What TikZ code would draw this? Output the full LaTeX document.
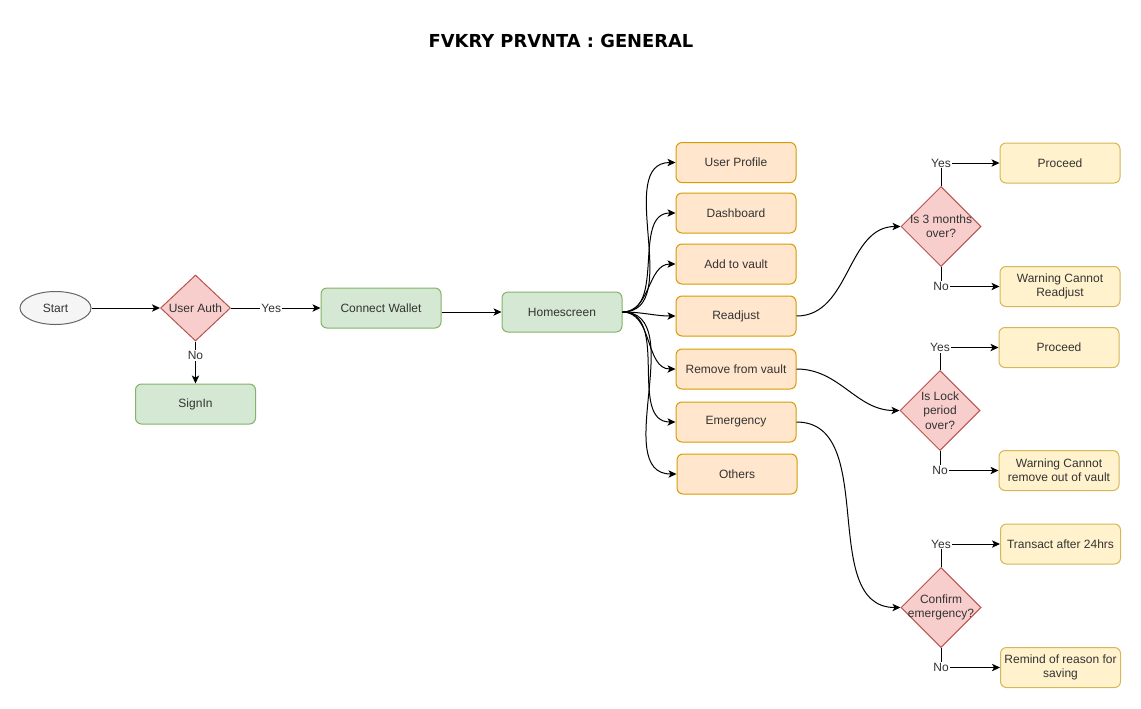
\documentclass[tikz,border=0pt]{standalone}
\usepackage{fontspec}
\setmainfont{Liberation Sans}
\newfontfamily\titlefont{DejaVu Sans}
\usetikzlibrary{shapes.geometric, arrows.meta}
\definecolor{greenfill}{HTML}{D5E8D4}
\definecolor{greenline}{HTML}{82B366}
\definecolor{redfill}{HTML}{F8CECC}
\definecolor{redline}{HTML}{B85450}
\definecolor{orangefill}{HTML}{FFE6CC}
\definecolor{orangeline}{HTML}{D79B00}
\definecolor{yellowfill}{HTML}{FFF2CC}
\definecolor{yellowline}{HTML}{D6B656}
\definecolor{greyfill}{HTML}{F5F5F5}
\definecolor{greyline}{HTML}{666666}
\definecolor{textgrey}{HTML}{333333}

\begin{document}
\begin{tikzpicture}[x=0.75pt, y=-0.75pt,
  every node/.style={font=\fontsize{9}{10.75}\selectfont, text=textgrey},
  startshape/.style={ellipse, draw=greyline, fill=greyfill, line width=0.75pt, minimum width=53.25pt, minimum height=24.75pt},
  okbox/.style={rectangle, rounded corners=4.5pt, draw=greenline, fill=greenfill, line width=0.75pt, minimum width=90pt, minimum height=30pt},
  itembox/.style={rectangle, rounded corners=4.5pt, draw=orangeline, fill=orangefill, line width=0.75pt, minimum width=90pt, minimum height=30pt},
  resultbox/.style={rectangle, rounded corners=4.5pt, draw=yellowline, fill=yellowfill, line width=0.75pt, minimum width=90pt, minimum height=30pt, align=center, inner sep=1pt},
  decision/.style={diamond, draw=redline, fill=redfill, line width=0.75pt, minimum width=60pt, minimum height=60pt, inner sep=0pt},
  flow/.style={line width=0.75pt, -{Stealth[length=6pt, width=5.5pt, inset=1.5pt]}},
  lbl/.style={fill=white, inner sep=0.8pt}]
  \useasboundingbox (0, 0) rectangle (1141, 708);
  \node (title) at (561, 41) [font=\titlefont\bfseries\fontsize{13.4}{16}\selectfont, text=black] {FVKRY PRVNTA : GENERAL};
  \node (start) at (55.5, 308) [startshape] {Start};
  \node (auth) at (195.5, 308) [decision, minimum width=52.5pt, minimum height=49.5pt, label={center:User Auth}] {};
  \node (signin) at (195.5, 404) [okbox] {SignIn};
  \node (wallet) at (381, 308) [okbox] {Connect Wallet};
  \node (home) at (562, 312) [okbox] {Homescreen};
  \node (profile) at (736, 162.5) [itembox] {User Profile};
  \node (dash) at (736, 213) [itembox] {Dashboard};
  \node (add) at (736, 264) [itembox] {Add to vault};
  \node (readjust) at (736, 316) [itembox] {Readjust};
  \node (remove) at (736, 369) [itembox] {Remove from vault};
  \node (emergency) at (736, 422) [itembox] {Emergency};
  \node (others) at (737, 474) [itembox] {Others};
  \node (months) at (941, 226.5) [decision, label={[align=center]center:Is 3 months\\over?}] {};
  \node (lock) at (940, 410.5) [decision, label={[align=center]center:Is Lock\\period\\over?}] {};
  \node (confirm) at (941, 607.5) [decision, label={[align=center]center:Confirm\\emergency?}] {};
  \node (proceedA) at (1060, 163) [resultbox] {Proceed};
  \node (warnA) at (1060, 286.5) [resultbox] {Warning Cannot\\Readjust};
  \node (proceedB) at (1059, 347.5) [resultbox] {Proceed};
  \node (warnB) at (1059, 470.5) [resultbox] {Warning Cannot\\remove out of vault};
  \node (transact) at (1060.5, 544) [resultbox] {Transact after 24hrs};
  \node (remind) at (1060.5, 667.5) [resultbox] {Remind of reason for\\saving};
  \draw[flow] (start) -- (auth);
  \draw[flow] (auth) -- node[lbl, pos=0.45] {Yes} (wallet);
  \draw[flow] (auth) -- node[lbl, pos=0.33] {No} (signin);
  \draw[flow] (wallet.east |- home.east) -- (home.west);
  \draw[flow] (home.east) to[out=0, in=180] (profile.west);
  \draw[flow] (home.east) to[out=0, in=180] (dash.west);
  \draw[flow] (home.east) to[out=0, in=180] (add.west);
  \draw[flow] (home.east) to[out=0, in=180] (readjust.west);
  \draw[flow] (home.east) to[out=0, in=180] (remove.west);
  \draw[flow] (home.east) to[out=0, in=180] (emergency.west);
  \draw[flow] (home.east) to[out=0, in=180] (others.west);
  \draw[flow] (readjust.east) to[out=0, in=180] (months.west);
  \draw[flow] (remove.east) to[out=0, in=180] (lock.west);
  \draw[flow] (emergency.east) to[out=0, in=180] (confirm.west);
  \draw[flow] (months.north) -- (months.north |- proceedA) node[lbl] {Yes} -- (proceedA.west);
  \draw[flow] (months.south) -- (months.south |- warnA) node[lbl] {No} -- (warnA.west);
  \draw[flow] (lock.north) -- (lock.north |- proceedB) node[lbl] {Yes} -- (proceedB.west);
  \draw[flow] (lock.south) -- (lock.south |- warnB) node[lbl] {No} -- (warnB.west);
  \draw[flow] (confirm.north) -- (confirm.north |- transact) node[lbl] {Yes} -- (transact.west);
  \draw[flow] (confirm.south) -- (confirm.south |- remind) node[lbl] {No} -- (remind.west);
\end{tikzpicture}
\end{document}
